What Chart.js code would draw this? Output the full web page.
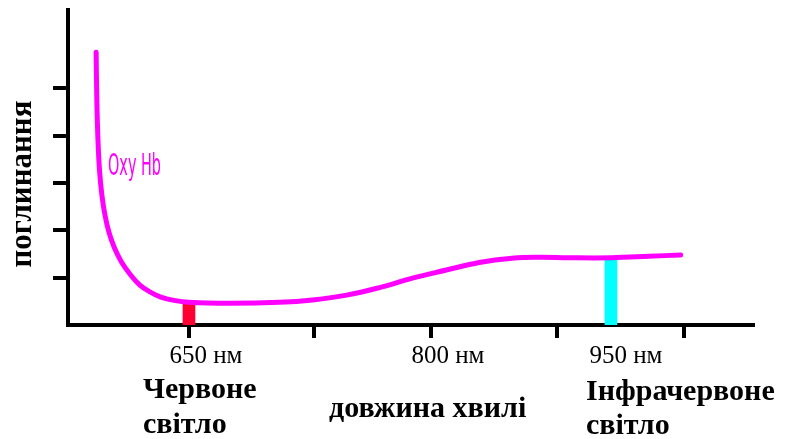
<!DOCTYPE html>
<html>
<head>
<meta charset="utf-8">
<script src="https://cdn.jsdelivr.net/npm/chart.js@4.4.1/dist/chart.umd.min.js"></script>
<style>
  html, body { margin: 0; padding: 0; background: #fff; }
</style>
</head>
<body>
<canvas id="grafico" width="785" height="439"></canvas>
<script>
// Крива поглинання Oxy Hb (довжина хвилі в нм, поглинання в умовних одиницях)
const wavelengths = [584.0, 584.5, 585.3, 586.4, 588.1, 590.3, 593.1, 597.0, 602.0, 608.4, 615.1, 622.2, 630.0, 639.3,
  649.9, 679, 714.5, 737.9, 762.1, 785.5, 808.9, 833, 856.4, 879.8, 898.9, 920.2, 950, 977, 999.6];
const absorption = [5.76, 4.75, 3.91, 3.27, 2.74, 2.32, 1.96, 1.63, 1.33, 1.06, 0.84, 0.70, 0.59, 0.52,
  0.48, 0.46, 0.48, 0.53, 0.63, 0.79, 0.99, 1.16, 1.32, 1.41, 1.43, 1.42, 1.42, 1.45, 1.48];

// Смуги світла (червона та інфрачервона)
const bandNm = [650, 950];
const bandLevel = [0.48, 1.42];

// Поділки осей (без підписів)
const xTickValues = [650, 739, 822, 912, 1002];
const yTickValues = [1, 2, 3, 4, 5];

// Підписи
const xTickLabels = ['650 нм', '800 нм', '950 нм'];
const xLabelNm = [650, 800, 950];
const seriesName = 'Oxy Hb';
const yTitle = 'поглинання';
const xTitle = 'довжина хвилі';
const redCaption = ['Червоне', 'світло'];
const irCaption = ['Інфрачервоне', 'світло'];

const serif = '"Liberation Serif", "Times New Roman", serif';

const labelsPlugin = {
  id: 'labels',
  afterDraw(chart) {
    const { ctx, scales: { x } } = chart;
    ctx.save();
    ctx.fillStyle = '#000';
    ctx.textBaseline = 'alphabetic';

    // підписи під віссю
    ctx.font = '25px ' + serif;
    ctx.textAlign = 'center';
    const shift = [17, 48, 15];
    xTickLabels.forEach((t, i) => {
      ctx.fillText(t, x.getPixelForValue(xLabelNm[i]) + shift[i], 363);
    });

    ctx.font = 'bold 30px ' + serif;
    ctx.textAlign = 'left';
    ctx.fillText(redCaption[0], 143, 398);
    ctx.fillText(redCaption[1], 143, 433);
    ctx.fillText(irCaption[0], 586, 400);
    ctx.fillText(irCaption[1], 586, 434);
    ctx.fillText(xTitle, 329, 417);

    // назва осі y
    ctx.save();
    ctx.font = 'bold 31px ' + serif;
    ctx.translate(23, 184);
    ctx.rotate(-Math.PI / 2);
    ctx.textAlign = 'center';
    ctx.textBaseline = 'middle';
    ctx.fillText(yTitle, 0, 0);
    ctx.restore();

    // назва кривої, вузький шрифт
    ctx.font = '30px "Liberation Sans Narrow", "DejaVu Sans Condensed", "Liberation Sans", sans-serif';
    ctx.fillStyle = '#ff00ff';
    const w = ctx.measureText(seriesName).width;
    ctx.translate(108, 175);
    ctx.scale(53 / w, 1);
    ctx.fillText(seriesName, 0, 0);
    ctx.restore();
  }
};

const ctx = document.getElementById('grafico').getContext('2d');
new Chart(ctx, {
  type: 'line',
  data: {
    datasets: [
      {
        type: 'line',
        data: wavelengths.map((v, i) => ({ x: v, y: absorption[i] })),
        borderColor: '#ff00ff',
        borderWidth: 5,
        borderCapStyle: 'round',
        borderJoinStyle: 'round',
        pointRadius: 0,
        tension: 0.4,
        fill: false,
        order: 1
      },
      {
        type: 'bar',
        data: bandNm.map((v, i) => ({ x: v, y: bandLevel[i] })),
        backgroundColor: ['#ff0033', '#00ffff'],
        barThickness: 12,
        order: 2
      }
    ]
  },
  options: {
    responsive: false,
    animation: false,
    layout: { padding: { left: 53, right: 32, top: 10, bottom: 101 } },
    plugins: { legend: { display: false }, tooltip: { enabled: false } },
    scales: {
      x: {
        type: 'linear',
        min: 564,
        max: 1051,
        offset: false,
        afterBuildTicks: (s) => { s.ticks = xTickValues.map(v => ({ value: v })); },
        ticks: { display: false },
        grid: { offset: false, drawOnChartArea: false, drawTicks: true, tickLength: 13, lineWidth: 4, color: '#000' },
        border: { display: true, width: 4, color: '#000' }
      },
      y: {
        min: 0,
        max: 6.65,
        afterBuildTicks: (s) => { s.ticks = yTickValues.map(v => ({ value: v })); },
        ticks: { display: false },
        grid: { drawOnChartArea: false, drawTicks: true, tickLength: 15, lineWidth: 4, color: '#000' },
        border: { display: true, width: 4, color: '#000' }
      }
    }
  },
  plugins: [labelsPlugin]
});
</script>
</body>
</html>
